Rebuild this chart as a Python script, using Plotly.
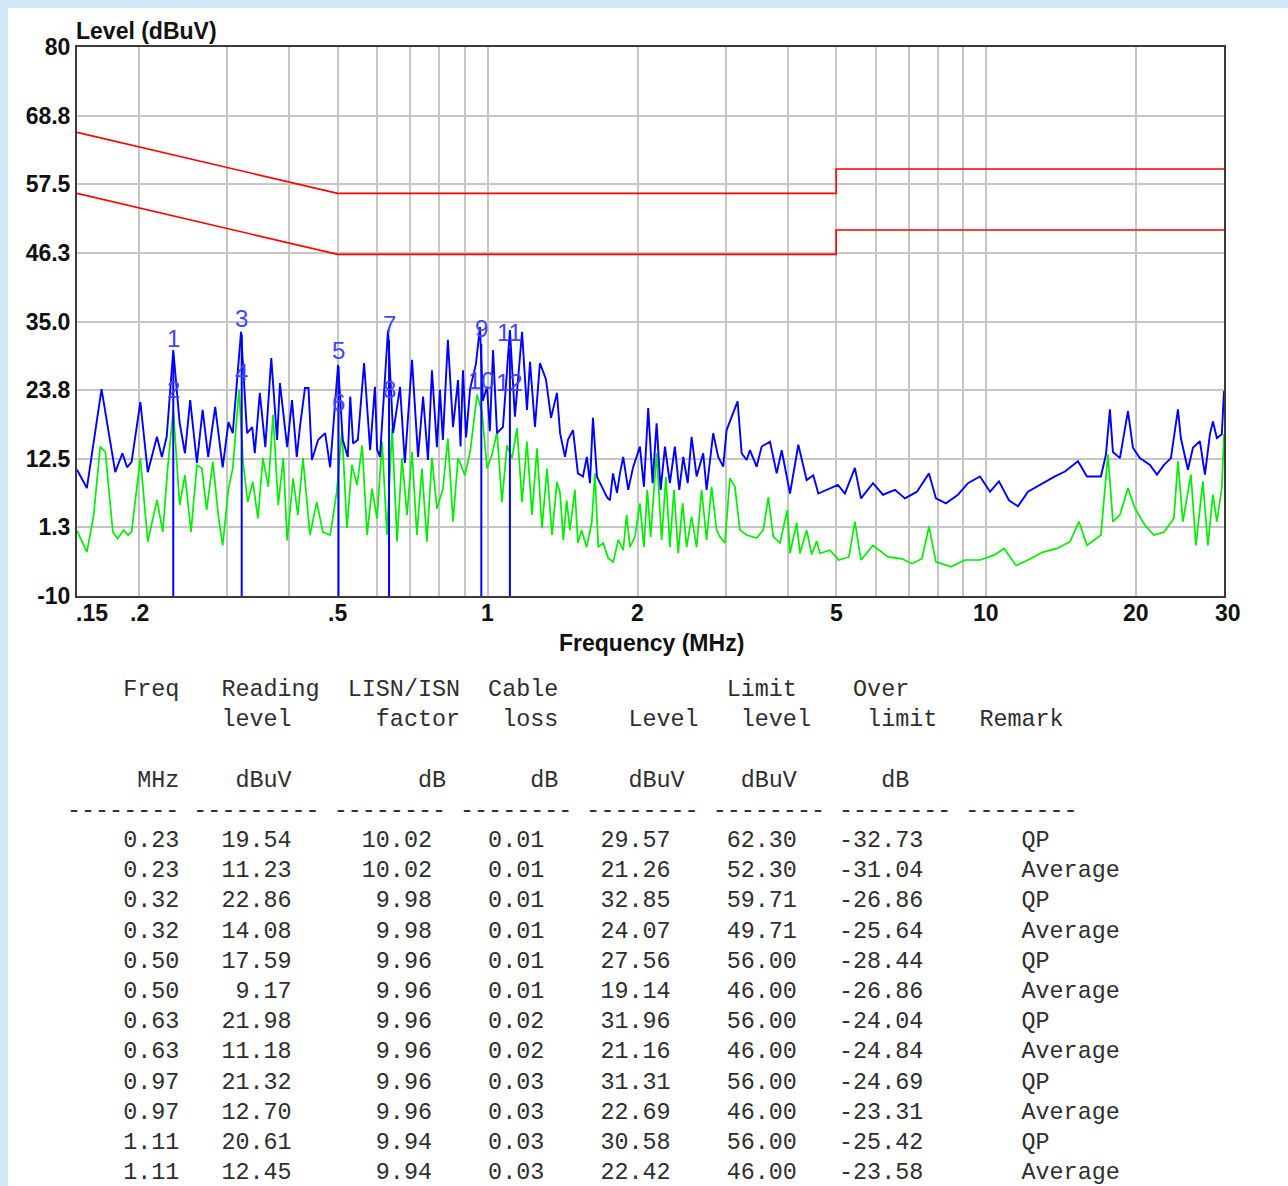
import math
import plotly.graph_objects as go

# ---------------- spectrum data ----------------
peak_freq = [0.150, 0.157, 0.168, 0.179, 0.185, 0.189, 0.193, 0.201, 0.208, 0.217,
             0.222, 0.227, 0.234, 0.241, 0.247, 0.253, 0.261, 0.268, 0.275, 0.284,
             0.294, 0.302, 0.308, 0.320, 0.329, 0.337, 0.341, 0.349, 0.358, 0.368,
             0.378, 0.383, 0.396, 0.405, 0.414, 0.420, 0.430, 0.437, 0.444, 0.457,
             0.472, 0.483, 0.501, 0.512, 0.524, 0.530, 0.537, 0.549, 0.565, 0.581,
             0.594, 0.600, 0.608, 0.631, 0.646, 0.667, 0.682, 0.705, 0.725, 0.742,
             0.759, 0.773, 0.791, 0.802, 0.813, 0.832, 0.852, 0.872, 0.882, 0.892,
             0.905, 0.922, 0.947, 0.965, 0.978, 0.997, 1.010, 1.025, 1.044, 1.073,
             1.108, 1.134, 1.172, 1.199, 1.216, 1.244, 1.273, 1.309, 1.340, 1.377,
             1.397, 1.429, 1.449, 1.483, 1.517, 1.553, 1.581, 1.604, 1.626, 1.657,
             1.695, 1.735, 1.759, 1.784, 1.817, 1.842, 1.870, 1.914, 1.956, 2.020,
             2.058, 2.099, 2.142, 2.182, 2.223, 2.268, 2.320, 2.374, 2.423, 2.468,
             2.519, 2.565, 2.625, 2.706, 2.749, 2.834, 2.900, 2.968, 3.015, 3.086,
             3.172, 3.232, 3.307, 3.358, 3.463, 3.545, 3.684, 3.800, 3.889, 4.041,
             4.199, 4.364, 4.500, 4.605, 4.859, 5.042, 5.207, 5.453, 5.609, 5.928,
             6.209, 6.562, 6.872, 7.264, 7.678, 7.930, 8.305, 8.778, 9.193, 9.718,
             10.18, 10.61, 11.11, 11.58, 12.13, 13.00, 13.74, 14.39, 15.28, 15.93,
             16.99, 17.39, 17.71, 17.96, 18.55, 19.25, 19.70, 20.34, 21.31, 22.01,
             22.74, 23.48, 24.25, 24.58, 25.39, 25.99, 26.84, 27.47, 28.11, 28.50,
             29.03, 29.70, 30.0]
peak_level = [10.7, 7.7, 23.9, 10.3, 13.4, 11.1, 12.0, 21.8, 10.3, 16.1,
              12.8, 16.1, 30.3, 18.4, 13.4, 22.1, 11.8, 20.5, 12.8, 21.0,
              11.1, 18.5, 16.7, 33.3, 16.7, 17.7, 13.4, 23.3, 14.4, 29.0,
              15.6, 24.9, 14.4, 22.1, 12.8, 17.7, 24.1, 24.1, 12.3, 15.6,
              16.7, 11.1, 27.9, 15.6, 12.8, 22.7, 15.0, 15.6, 28.2, 13.9,
              24.3, 14.0, 12.8, 33.6, 16.7, 24.3, 11.8, 28.7, 12.8, 22.7,
              12.3, 27.0, 14.4, 23.8, 15.6, 32.0, 17.7, 25.4, 14.5, 27.0,
              16.0, 24.0, 28.0, 34.1, 22.0, 24.3, 17.0, 30.3, 16.7, 17.7,
              33.6, 19.4, 33.3, 20.5, 28.4, 17.7, 28.2, 25.5, 19.2, 23.3,
              16.7, 12.8, 15.6, 17.2, 10.1, 9.6, 12.8, 8.5, 19.2, 9.5,
              7.9, 6.2, 5.7, 10.1, 6.9, 10.1, 12.8, 7.4, 11.0, 14.5,
              7.9, 20.8, 8.5, 18.3, 7.4, 14.5, 8.5, 14.5, 7.4, 12.8,
              8.5, 16.1, 9.6, 13.4, 7.4, 16.7, 12.8, 11.2, 17.2, 19.4,
              21.9, 13.4, 12.3, 13.9, 11.2, 14.5, 15.3, 10.1, 13.9, 6.8,
              14.8, 9.0, 9.8, 6.8, 7.7, 8.2, 6.8, 11.0, 6.0, 8.5,
              6.6, 7.4, 6.0, 7.1, 10.1, 6.0, 5.2, 6.6, 8.5, 9.6,
              7.1, 8.8, 5.7, 4.7, 7.1, 8.5, 9.6, 10.4, 12.1, 9.6,
              9.6, 13.2, 20.6, 13.6, 12.6, 20.3, 14.3, 12.6, 11.5, 9.9,
              11.5, 12.6, 20.6, 15.9, 10.7, 14.3, 15.4, 9.9, 16.5, 18.6,
              15.9, 16.5, 23.6]

avg_freq = [0.150, 0.157, 0.162, 0.167, 0.171, 0.177, 0.181, 0.186, 0.190, 0.193,
            0.201, 0.208, 0.217, 0.223, 0.228, 0.234, 0.241, 0.247, 0.254, 0.261,
            0.267, 0.273, 0.281, 0.288, 0.294, 0.302, 0.308, 0.317, 0.323, 0.330,
            0.338, 0.346, 0.354, 0.363, 0.371, 0.380, 0.389, 0.396, 0.407, 0.416,
            0.426, 0.440, 0.454, 0.467, 0.483, 0.498, 0.510, 0.522, 0.534, 0.547,
            0.560, 0.573, 0.586, 0.600, 0.614, 0.628, 0.643, 0.658, 0.673, 0.689,
            0.705, 0.721, 0.738, 0.755, 0.773, 0.791, 0.813, 0.832, 0.852, 0.872,
            0.900, 0.922, 0.952, 0.974, 0.997, 1.020, 1.044, 1.068, 1.093, 1.119,
            1.145, 1.172, 1.199, 1.227, 1.256, 1.285, 1.315, 1.346, 1.377, 1.397,
            1.418, 1.440, 1.462, 1.496, 1.517, 1.543, 1.579, 1.617, 1.641, 1.667,
            1.705, 1.745, 1.786, 1.828, 1.870, 1.900, 1.929, 1.974, 2.020, 2.058,
            2.090, 2.123, 2.182, 2.233, 2.278, 2.320, 2.364, 2.411, 2.461, 2.507,
            2.565, 2.625, 2.686, 2.749, 2.813, 2.879, 2.923, 2.992, 3.061, 3.133,
            3.206, 3.307, 3.463, 3.572, 3.656, 3.741, 3.858, 3.990, 4.041, 4.168,
            4.232, 4.364, 4.467, 4.572, 4.640, 4.859, 5.061, 5.305, 5.453, 5.609,
            5.928, 6.354, 6.777, 7.098, 7.433, 7.678, 7.930, 8.499, 9.070, 9.718,
            10.37, 10.86, 11.48, 12.13, 13.00, 13.87, 14.73, 15.35, 15.93, 16.99,
            17.55, 17.96, 18.55, 19.25, 19.88, 20.82, 21.70, 22.74, 23.80, 24.25,
            24.81, 25.75, 26.35, 27.21, 27.85, 28.50, 29.03, 29.70, 30.0]
avg_level = [0.7, -2.8, 3.2, 14.5, 13.6, 0.5, -0.6, 0.8, 0.0, 0.5,
             12.6, -1.1, 5.7, 0.5, 10.9, 20.5, 4.9, 9.8, 0.5, 11.5,
             10.9, 4.1, 12.0, 3.3, -1.7, 7.6, 10.9, 23.8, 12.0, 5.4,
             8.7, 2.7, 12.6, 7.9, 19.7, 4.9, 12.6, -0.9, 9.3, 3.3,
             12.6, 0.0, 5.4, 0.5, 0.0, 7.1, 17.2, 1.1, 11.5, 8.2,
             14.7, 0.0, 7.6, 2.7, 15.3, 0.0, 17.5, -1.1, 12.6, 3.3,
             13.6, 0.0, 10.9, -1.1, 12.6, 4.3, 7.6, 15.8, 2.2, 12.6,
             9.8, 13.6, 23.0, 20.2, 10.9, 13.1, 16.9, 5.4, 14.7, 12.6,
             17.5, 5.4, 15.3, 3.3, 14.2, 1.1, 10.9, 0.0, 8.7, 6.9,
             -0.8, 5.7, 0.8, 7.4, -1.3, 0.8, -2.0, 2.0, 10.1, -2.0,
             -1.3, -3.8, -4.4, -0.8, -2.5, 3.3, -2.0, -0.3, 5.2, -2.0,
             7.4, -0.3, 13.4, -0.8, 9.5, -2.0, 7.4, -3.0, 5.2, -2.0,
             3.0, -2.0, 7.4, -0.8, 7.9, 0.8, -0.3, -1.3, 9.3, 7.9,
             0.8, 0.0, -0.5, 0.8, 6.2, -0.3, -1.3, 4.1, -3.0, 2.0,
             -3.0, 0.8, -3.2, -1.0, -3.0, -2.5, -4.1, -3.6, 2.2, -4.1,
             -1.7, -3.6, -3.9, -4.7, -3.9, 1.4, -4.4, -5.2, -4.1, -4.1,
             -3.3, -2.2, -5.0, -4.1, -2.8, -2.2, -1.1, 2.2, -1.7, 0.0,
             13.2, 2.2, 3.3, 7.7, 4.4, 1.6, 0.0, 0.5, 2.7, 12.1,
             2.2, 9.9, -1.7, 8.8, -1.7, 6.6, 2.2, 7.7, 16.5]

# ---------------- limit lines ----------------
limit_freq = [0.15, 0.5, 5, 5, 30]
qp_limit = [66, 56, 56, 60, 60]
av_limit = [56, 46, 46, 50, 50]

# ---------------- measured points (table) ----------------
tbl_freq = [0.23, 0.23, 0.32, 0.32, 0.50, 0.50, 0.63, 0.63, 0.97, 0.97, 1.11, 1.11]
tbl_reading = [19.54, 11.23, 22.86, 14.08, 17.59, 9.17, 21.98, 11.18, 21.32, 12.70, 20.61, 12.45]
tbl_lisn = [10.02, 10.02, 9.98, 9.98, 9.96, 9.96, 9.96, 9.96, 9.96, 9.96, 9.94, 9.94]
tbl_cable = [0.01, 0.01, 0.01, 0.01, 0.01, 0.01, 0.02, 0.02, 0.03, 0.03, 0.03, 0.03]
tbl_level = [29.57, 21.26, 32.85, 24.07, 27.56, 19.14, 31.96, 21.16, 31.31, 22.69, 30.58, 22.42]
tbl_limit = [62.30, 52.30, 59.71, 49.71, 56.00, 46.00, 56.00, 46.00, 56.00, 46.00, 56.00, 46.00]
tbl_over = [-32.73, -31.04, -26.86, -25.64, -28.44, -26.86, -24.04, -24.84, -24.69, -23.31, -25.42, -23.58]
tbl_remark = ["QP", "Average"] * 6
marker_freq = [0.234, 0.234, 0.321, 0.321, 0.502, 0.502, 0.634, 0.634, 0.971, 0.971, 1.108, 1.108]
marker_label = [str(i + 1) for i in range(12)]

# ---------------- axes ----------------
x_tick_vals = [0.15, 0.2, 0.5, 1, 2, 5, 10, 20, 30]
x_tick_text = [".15", ".2", ".5", "1", "2", "5", "10", "20", "30"]
x_grid_vals = [0.2, 0.3, 0.4, 0.5, 0.6, 0.7, 0.8, 0.9, 1, 2, 3, 4, 5, 6, 7, 8, 9, 10, 20]
y_tick_vals = [-10, 1.25, 12.5, 23.75, 35, 46.25, 57.5, 68.75, 80]
y_tick_text = ["-10", "1.3", "12.5", "23.8", "35.0", "46.3", "57.5", "68.8", "80"]

# figure fills the whole page (body margin removed below)
W, H = 1288, 1186
PW, PH = 1147, 549
L, T = 77, 47
R, B = W - L - PW, H - T - PH


def px_x(p):  # page pixel -> paper x
    return (p - L) / PW


def px_y(p):  # page pixel -> paper y
    return (T + PH - p) / PH


AXFONT = dict(family="Liberation Sans, Arial, sans-serif", size=23, color="#111111", weight="bold")

fig = go.Figure()
fig.add_trace(go.Scatter(x=limit_freq, y=qp_limit, mode="lines",
                         line=dict(color="#ff0000", width=1.6), hoverinfo="skip"))
fig.add_trace(go.Scatter(x=limit_freq, y=av_limit, mode="lines",
                         line=dict(color="#ff0000", width=1.6), hoverinfo="skip"))
fig.add_trace(go.Scatter(x=avg_freq, y=avg_level, mode="lines",
                         line=dict(color="#00ee00", width=1.7), hoverinfo="skip"))
fig.add_trace(go.Scatter(x=peak_freq, y=peak_level, mode="lines",
                         line=dict(color="#0000ff", width=1.9), hoverinfo="skip"))

# vertical marker lines
vx, vy = [], []
for f, lv, rm in zip(marker_freq, tbl_level, tbl_remark):
    if rm == "QP":
        vx += [f, f, None]
        vy += [-10, lv, None]
fig.add_trace(go.Scatter(x=vx, y=vy, mode="lines",
                         line=dict(color="#0000ff", width=2), hoverinfo="skip"))

ann = []
for f, lv, lab in zip(marker_freq, tbl_level, marker_label):
    ann.append(dict(x=math.log10(f), y=lv, xref="x", yref="y", text=lab, showarrow=False,
                    yshift=16, font=dict(family="Liberation Sans, Arial, sans-serif", size=24,
                                         color="#4444ff")))

# x tick labels
xshift = {".15": 15, "30": 4}
for v, t in zip(x_tick_vals, x_tick_text):
    ann.append(dict(x=math.log10(v), y=px_y(613), xref="x", yref="paper", text=t,
                    showarrow=False, xshift=xshift.get(t, 0), yanchor="middle", font=AXFONT))

ann.append(dict(x=px_x(74), y=px_y(31), xref="paper", yref="paper", text="Level (dBuV)",
                showarrow=False, xanchor="left", yanchor="middle", font=AXFONT))
ann.append(dict(x=px_x(651), y=px_y(643), xref="paper", yref="paper", text="Frequency (MHz)",
                showarrow=False, xanchor="center", yanchor="middle", font=AXFONT))

# ---------------- table text ----------------
NB = "\u00a0"


def line(items, n=90):
    buf = [NB] * n
    for start, txt in items:
        for i, ch in enumerate(txt):
            buf[start + i] = ch
    return "".join(buf).rstrip(NB) or NB


def rj(end, txt):
    return (end - len(txt), txt)


rows = [
    line([(4, "Freq"), (11, "Reading"), (20, "LISN/ISN"), (30, "Cable"), (47, "Limit"), (56, "Over")]),
    line([(11, "level"), (22, "factor"), (31, "loss"), (40, "Level"), (48, "level"), (57, "limit"), (65, "Remark")]),
    NB,
    line([(5, "MHz"), (12, "dBuV"), (25, "dB"), (33, "dB"), (40, "dBuV"), (48, "dBuV"), (58, "dB")]),
    line([(0, "-" * 8), (9, "-" * 9), (19, "-" * 8), (28, "-" * 8), (37, "-" * 8), (46, "-" * 8),
          (55, "-" * 8), (64, "-" * 8)]),
]
for i in range(len(tbl_freq)):
    rows.append(line([
        rj(8, f"{tbl_freq[i]:.2f}"), rj(16, f"{tbl_reading[i]:.2f}"), rj(26, f"{tbl_lisn[i]:.2f}"),
        rj(34, f"{tbl_cable[i]:.2f}"), rj(43, f"{tbl_level[i]:.2f}"), rj(52, f"{tbl_limit[i]:.2f}"),
        rj(61, f"{tbl_over[i]:.2f}"), (68, tbl_remark[i])]))

for k, r in enumerate(rows):
    ann.append(dict(x=px_x(65), y=px_y(690 + 30.2 * k), xref="paper", yref="paper", text=r,
                    showarrow=False, xanchor="left", yanchor="middle",
                    font=dict(family="Liberation Mono, Courier New, monospace", size=23.4,
                              color="#2e2e2e")))

# light-blue page border strips (left and top)
shapes = [
    dict(type="rect", xref="paper", yref="paper", x0=px_x(-5), x1=px_x(8),
         y0=px_y(H + 5), y1=px_y(-5), fillcolor="#cfe7f8", line=dict(width=0), layer="below"),
    dict(type="rect", xref="paper", yref="paper", x0=px_x(-5), x1=px_x(W + 5),
         y0=px_y(8), y1=px_y(-5), fillcolor="#cfe7f8", line=dict(width=0), layer="below"),
]

fig.update_layout(
    width=W, height=H, margin=dict(l=L, r=R, t=T, b=B),
    paper_bgcolor="#ffffff", plot_bgcolor="#ffffff", showlegend=False,
    annotations=ann, shapes=shapes,
    xaxis=dict(type="log", range=[math.log10(0.15), math.log10(30)], tickvals=x_grid_vals,
               showticklabels=False, showgrid=True, gridcolor="#c6c6c6", gridwidth=1.5,
               showline=True, mirror=True, linecolor="#3a3a3a", linewidth=2, zeroline=False, ticks=""),
    yaxis=dict(range=[-10, 80], tickvals=y_tick_vals, ticktext=y_tick_text, tickfont=AXFONT,
               showgrid=True, gridcolor="#c6c6c6", gridwidth=1.5, showline=True, mirror=True,
               linecolor="#3a3a3a", linewidth=2, zeroline=False, ticks=""),
)

page_js = (
    "document.documentElement.style.overflow='hidden';"
    "document.body.style.overflow='hidden';"
    "document.body.style.margin='0';"
    "document.body.style.backgroundColor='#ffffff';"
)
fig.write_html("out.html", post_script=page_js, config={"displayModeBar": False})
